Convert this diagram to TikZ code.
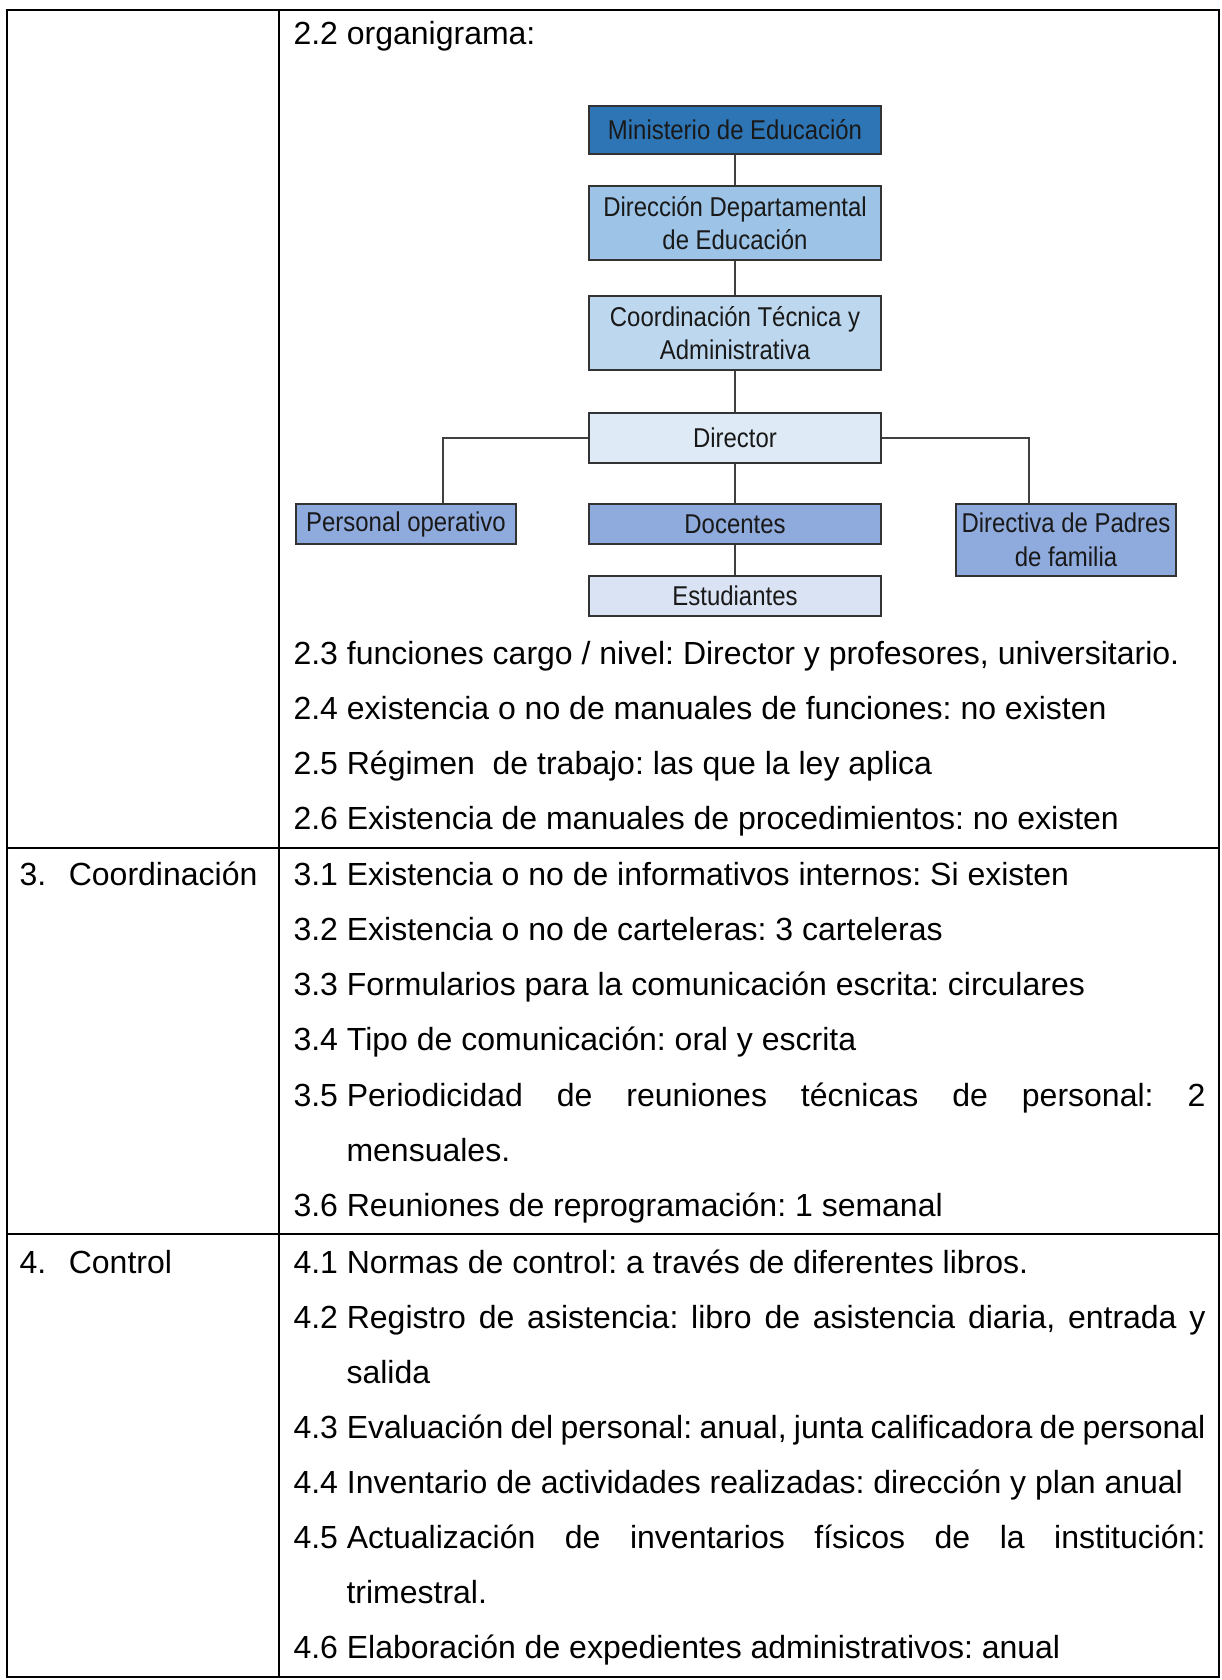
\documentclass[tikz,border=0pt]{standalone}
\usepackage{fontspec}
\setmainfont{Liberation Sans}
\newfontfamily\boxfont[FakeStretch=0.88]{Liberation Sans}
\usetikzlibrary{calc}
\definecolor{cMin}{HTML}{2E75B6}
\definecolor{cDep}{HTML}{9DC3E6}
\definecolor{cCoo}{HTML}{BDD7EE}
\definecolor{cDir}{HTML}{DEEBF7}
\definecolor{cMid}{HTML}{8FAADC}
\definecolor{cEst}{HTML}{DAE3F3}
\frenchspacing
\begin{document}
\begin{tikzpicture}[x=0.375pt,y=-0.375pt,
  txt/.style={anchor=base west,inner sep=0pt,font=\frenchspacing\fontsize{12}{14}\selectfont},
  org/.style={draw=black!80,line width=0.6pt,inner sep=0pt,font=\boxfont\fontsize{10.2}{12.6}\selectfont,align=center,text=black!90},
  wide/.style={org,minimum width=109.5pt},
  narrow/.style={org,minimum width=82.5pt},
  link/.style={draw=black!75,line width=0.6pt},
  rulethick/.style={line width=0.8pt},
  rulethin/.style={line width=0.4pt}]
\useasboundingbox (0,0) rectangle (1222,1680);
\fill[white] (0,0) rectangle (1222,1680);

% table rules
\draw[rulethick] (7,10) rectangle (1219,1677);
\draw[rulethick] (279,10) -- (279,81);
\draw[rulethin] (279,81) -- (279,636);
\draw[rulethick] (279,636) -- (279,1677);
\draw[rulethick] (7,848) -- (1219,848);
\draw[rulethick] (7,1234) -- (1219,1234);

% organigram
\node[wide,fill=cMin,minimum height=18pt] (min) at (735,130) {Ministerio de Educación};
\node[wide,fill=cDep,minimum height=27.75pt] (dep) at (735,223) {Dirección Departamental\\de Educación};
\node[wide,fill=cCoo,minimum height=27.75pt] (coo) at (735,333) {Coordinación Técnica y\\Administrativa};
\node[wide,fill=cDir,minimum height=18.75pt] (dir) at (735,438) {Director};
\node[narrow,fill=cMid,minimum height=15pt] (per) at (406,524) {Personal operativo};
\node[wide,fill=cMid,minimum height=15pt] (doc) at (735,524) {Docentes};
\node[narrow,fill=cMid,minimum height=27pt] (pad) at (1066,540) {Directiva de Padres\\de familia};
\node[wide,fill=cEst,minimum height=15pt] (est) at (735,596) {Estudiantes};

\draw[link] (min.south) -- (dep.north);
\draw[link] (dep.south) -- (coo.north);
\draw[link] (coo.south) -- (dir.north);
\draw[link] (dir.south) -- (doc.north);
\draw[link] (doc.south) -- (est.north);
\draw[link] (dir.west) -| ($(per.north)+(37,0)$);
\draw[link] (dir.east) -| ($(pad.north)+(-37,0)$);

% left column
\node[txt] (s3) at (19,885) {\makebox[18.5pt][l]{3.}Coordinación};
\node[txt] (s4) at (19,1273) {\makebox[18.5pt][l]{4.}Control};

% right column, section 2
\node[txt] (t22) at (293,44) {2.2 organigrama:};
\node[txt] (t23) at (293,664) {2.3 funciones cargo / nivel: Director y profesores, universitario.};
\node[txt] (t24) at (293,719) {2.4 existencia o no de manuales de funciones: no existen};
\node[txt] (t25) at (293,774) {2.5 Régimen~~de trabajo: las que la ley aplica};
\node[txt] (t26) at (293,829) {2.6 Existencia de manuales de procedimientos: no existen};

% section 3
\node[txt] (t31) at (293,885) {3.1 Existencia o no de informativos internos: Si existen};
\node[txt] (t32) at (293,940) {3.2 Existencia o no de carteleras: 3 carteleras};
\node[txt] (t33) at (293,995) {3.3 Formularios para la comunicación escrita: circulares};
\node[txt] (t34) at (293,1050) {3.4 Tipo de comunicación: oral y escrita};
\node[txt] (t35) at (293,1106) {\makebox[20pt][l]{3.5}\makebox[322pt][s]{Periodicidad de reuniones técnicas de personal: 2}};
\node[txt] (t35b) at (346,1161) {mensuales.};
\node[txt] (t36) at (293,1216) {3.6 Reuniones de reprogramación: 1 semanal};

% section 4
\node[txt] (t41) at (293,1273) {4.1 Normas de control: a través de diferentes libros.};
\node[txt] (t42) at (293,1328) {\makebox[20pt][l]{4.2}\makebox[322pt][s]{Registro de asistencia: libro de asistencia diaria, entrada y}};
\node[txt] (t42b) at (346,1383) {salida};
\node[txt] (t43) at (293,1438) {\makebox[20pt][l]{4.3}\makebox[322pt][s]{Evaluación del personal: anual, junta calificadora de personal}};
\node[txt] (t44) at (293,1493) {4.4 Inventario de actividades realizadas: dirección y plan anual};
\node[txt] (t45) at (293,1548) {\makebox[20pt][l]{4.5}\makebox[322pt][s]{Actualización de inventarios físicos de la institución:}};
\node[txt] (t45b) at (346,1603) {trimestral.};
\node[txt] (t46) at (293,1658) {4.6 Elaboración de expedientes administrativos: anual};
\end{tikzpicture}
\end{document}
